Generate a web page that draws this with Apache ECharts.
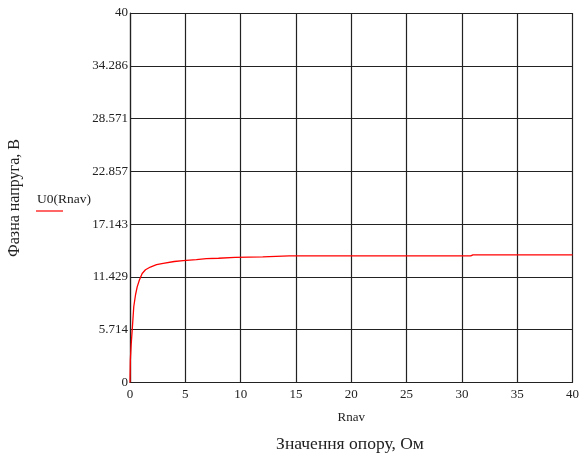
<!DOCTYPE html>
<html>
<head>
<meta charset="utf-8">
<script src="https://cdn.jsdelivr.net/npm/echarts@6/dist/echarts.min.js"></script>
<style>
html,body{margin:0;padding:0;background:#fff;}
#c{width:582px;height:459px;}
</style>
</head>
<body>
<div id="c"></div>
<script>
// Data
const rnav = [0, 0.03, 0.1, 0.2, 0.34, 0.5, 0.65, 0.85, 1.1, 1.4, 1.84, 2.4, 3.0, 4.0, 4.8, 6.0, 6.9, 8.0, 9.5, 12.0, 14.4, 20.0, 25.0, 30.8, 31.0, 40.0];
const u0   = [0, 2.4, 4.0, 5.7, 8.2, 9.5, 10.35, 11.1, 11.8, 12.2, 12.5, 12.75, 12.9, 13.1, 13.2, 13.3, 13.4, 13.45, 13.55, 13.6, 13.7, 13.7, 13.7, 13.7, 13.82, 13.82];
const yTickLabels = ['0', '5.714', '11.429', '17.143', '22.857', '28.571', '34.286', '40'];
const xTickLabels = ['0', '5', '10', '15', '20', '25', '30', '35', '40'];
const seriesName = 'U0(Rnav)';
const xAxisName = 'Rnav';
const xTitle = 'Значення опору, Ом';
const yTitle = 'Фазна напруга, В';

const FONT = '"Liberation Serif", "Times New Roman", serif';
const chart = echarts.init(document.getElementById('c'), null, {renderer: 'canvas'});
const yStep = 40 / 7;
chart.setOption({
  animation: false,
  backgroundColor: '#fff',
  grid: {left: 130, right: 7.5, top: 13, bottom: 76.5, containLabel: false},
  graphic: [
    {type: 'text', x: 15, y: 198, rotation: Math.PI/2,
     style: {text: yTitle, font: '16px ' + FONT, fill: '#222', align: 'center', verticalAlign: 'middle'}},
    {type: 'text', x: 350, y: 444,
     style: {text: xTitle, font: '17.5px ' + FONT, fill: '#222', align: 'center', verticalAlign: 'middle'}},
    {type: 'text', x: 37, y: 192, style: {text: seriesName, font: '13.5px ' + FONT, fill: '#222'}},
    {type: 'line', shape: {x1: 36, y1: 211, x2: 63, y2: 211}, style: {stroke: '#ff0000', lineWidth: 1.2}}
  ],
  xAxis: {
    type: 'value', min: 0, max: 40, interval: 5,
    name: xAxisName, nameLocation: 'middle', nameGap: 29,
    nameTextStyle: {fontFamily: FONT, fontSize: 13, color: '#222'},
    axisLine: {show: true, lineStyle: {color: '#222', width: 1.2}},
    axisTick: {show: false},
    axisLabel: {fontFamily: FONT, fontSize: 13, color: '#222', margin: 6,
      formatter: v => xTickLabels[Math.round(v/5)]},
    splitLine: {show: true, lineStyle: {color: '#222', width: 1.2}}
  },
  yAxis: {
    type: 'value', min: 0, max: 40, interval: yStep,
    axisLine: {show: true, lineStyle: {color: '#222', width: 1.2}},
    axisTick: {show: false},
    axisLabel: {fontFamily: FONT, fontSize: 13, color: '#222', margin: 2,
      formatter: v => yTickLabels[Math.round(v/yStep)]},
    splitLine: {show: true, lineStyle: {color: '#222', width: 1.2}}
  },
  series: [{
    name: seriesName, type: 'line', showSymbol: false, symbol: 'none',
    lineStyle: {color: '#ff0000', width: 1.3},
    data: rnav.map((r, i) => [r, u0[i]])
  }]
});
</script>
</body>
</html>
